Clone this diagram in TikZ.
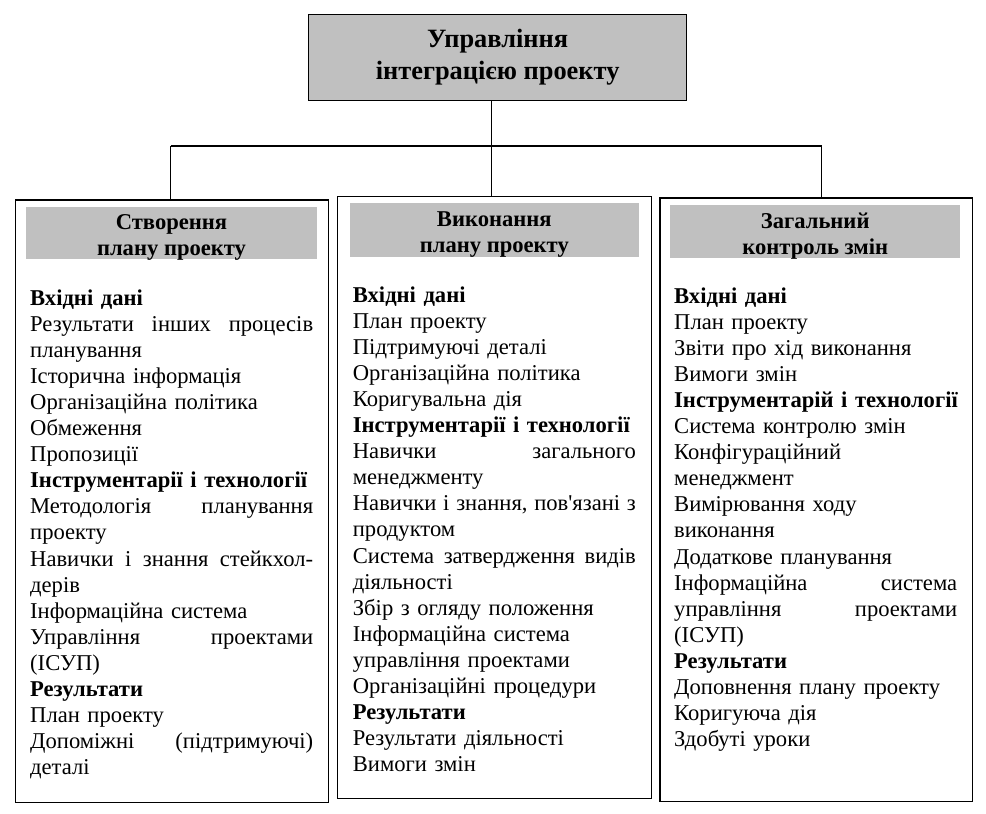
\documentclass[tikz,border=0pt]{standalone}
\usepackage{fontspec}
\setmainfont{Liberation Serif}[Ligatures=TeXOff]
\definecolor{hdrgray}{RGB}{192,192,192}
% a line stretched to the full column width (words separated by \hfill)
\newcommand{\fullline}[1]{\leavevmode\hbox to 283pt{#1}}
\begin{document}
\begin{tikzpicture}[x=1pt,y=-1pt,
  frame/.style={draw=black,line width=1.3pt,fill=white,inner sep=0pt,anchor=north west},
  titlebox/.style={draw=black,line width=1.3pt,fill=hdrgray,inner sep=0pt,anchor=north west,
    align=center,font=\fontsize{26.4}{32}\selectfont\bfseries},
  hdrbox/.style={fill=hdrgray,inner sep=0pt,anchor=north west},
  hdrtext/.style={inner sep=0pt,align=center,font=\fontsize{22.6}{26}\selectfont\bfseries},
  bodytext/.style={inner sep=0pt,anchor=base west,text width=340pt,align=left,
    font=\fontsize{22.6}{26.1}\selectfont\frenchspacing},
  link/.style={draw=black,line width=1.2pt}]
\useasboundingbox (0,0) rectangle (986,814);

% top process box
\node[titlebox,minimum width=378pt,minimum height=86pt] (top) at (308,14)
  {Управління\\інтеграцією проекту};

% three sub-process frames
\node[frame,minimum width=312.7pt,minimum height=602.4pt] (left) at (15,199.3) {};
\node[frame,minimum width=314pt,minimum height=602pt] (mid) at (336.7,196) {};
\node[frame,minimum width=312.4pt,minimum height=603.4pt] (right) at (659.3,197.3) {};

% grey headings inside the frames
\node[hdrbox,minimum width=290.7pt,minimum height=52.7pt] (lhdr) at (26,206.3) {};
\node[hdrbox,minimum width=289.7pt,minimum height=54pt] (mhdr) at (349.3,202.7) {};
\node[hdrbox,minimum width=290pt,minimum height=52.7pt] (rhdr) at (670,205) {};
\node[hdrtext] (lhdrt) at ([yshift=-5pt]lhdr.center) {Створення\\плану проекту};
\node[hdrtext] (mhdrt) at ([yshift=-5pt]mhdr.center) {Виконання\\плану проекту};
\node[hdrtext] (rhdrt) at ([yshift=-5pt]rhdr.center) {Загальний\\контроль змін};

% connectors
\coordinate (jn) at (491.7,146);
\coordinate (lj) at (170.7,146);
\coordinate (rj) at (821.7,146);
\draw[link] (top.south -| jn) -- (mid.north -| jn);
\draw[link] (lj) -- (rj);
\draw[link] (lj) -- (left.north -| lj);
\draw[link] (rj) -- (right.north -| rj);

% frame contents
\node[bodytext] (ltxt) at (30,305) {%
\textbf{Вхідні дані}\\
\fullline{Результати\hfill інших\hfill процесів}\\
планування\\
Історична інформація\\
Організаційна політика\\
Обмеження\\
Пропозиції\\
\textbf{Інструментарії і технології}\\
\fullline{Методологія\hfill планування}\\
проекту\\
\fullline{Навички\hfill і\hfill знання\hfill стейкхол-}\\
дерів\\
Інформаційна система\\
\fullline{Управління\hfill проектами}\\
(ІСУП)\\
\textbf{Результати}\\
План проекту\\
\fullline{Допоміжні\hfill (підтримуючі)}\\
деталі};

\node[bodytext] (mtxt) at (352.7,302) {%
\textbf{Вхідні дані}\\
План проекту\\
Підтримуючі деталі\\
Організаційна політика\\
Коригувальна дія\\
\textbf{Інструментарії і технології}\\
\fullline{Навички\hfill загального}\\
менеджменту\\
\fullline{Навички\hfill і\hfill знання,\hfill пов'язані\hfill з}\\
продуктом\\
\fullline{Система\hfill затвердження\hfill видів}\\
діяльності\\
Збір з огляду положення\\
Інформаційна система\\
управління проектами\\
Організаційні процедури\\
\textbf{Результати}\\
Результати діяльності\\
Вимоги змін};

\node[bodytext] (rtxt) at (674,303) {%
\textbf{Вхідні дані}\\
План проекту\\
Звіти про хід виконання\\
Вимоги змін\\
\textbf{Інструментарій і технології}\\
Система контролю змін\\
Конфігураційний\\
менеджмент\\
Вимірювання ходу\\
виконання\\
Додаткове планування\\
\fullline{Інформаційна\hfill система}\\
\fullline{управління\hfill проектами}\\
(ІСУП)\\
\textbf{Результати}\\
Доповнення плану проекту\\
Коригуюча дія\\
Здобуті уроки};
\end{tikzpicture}
\end{document}
